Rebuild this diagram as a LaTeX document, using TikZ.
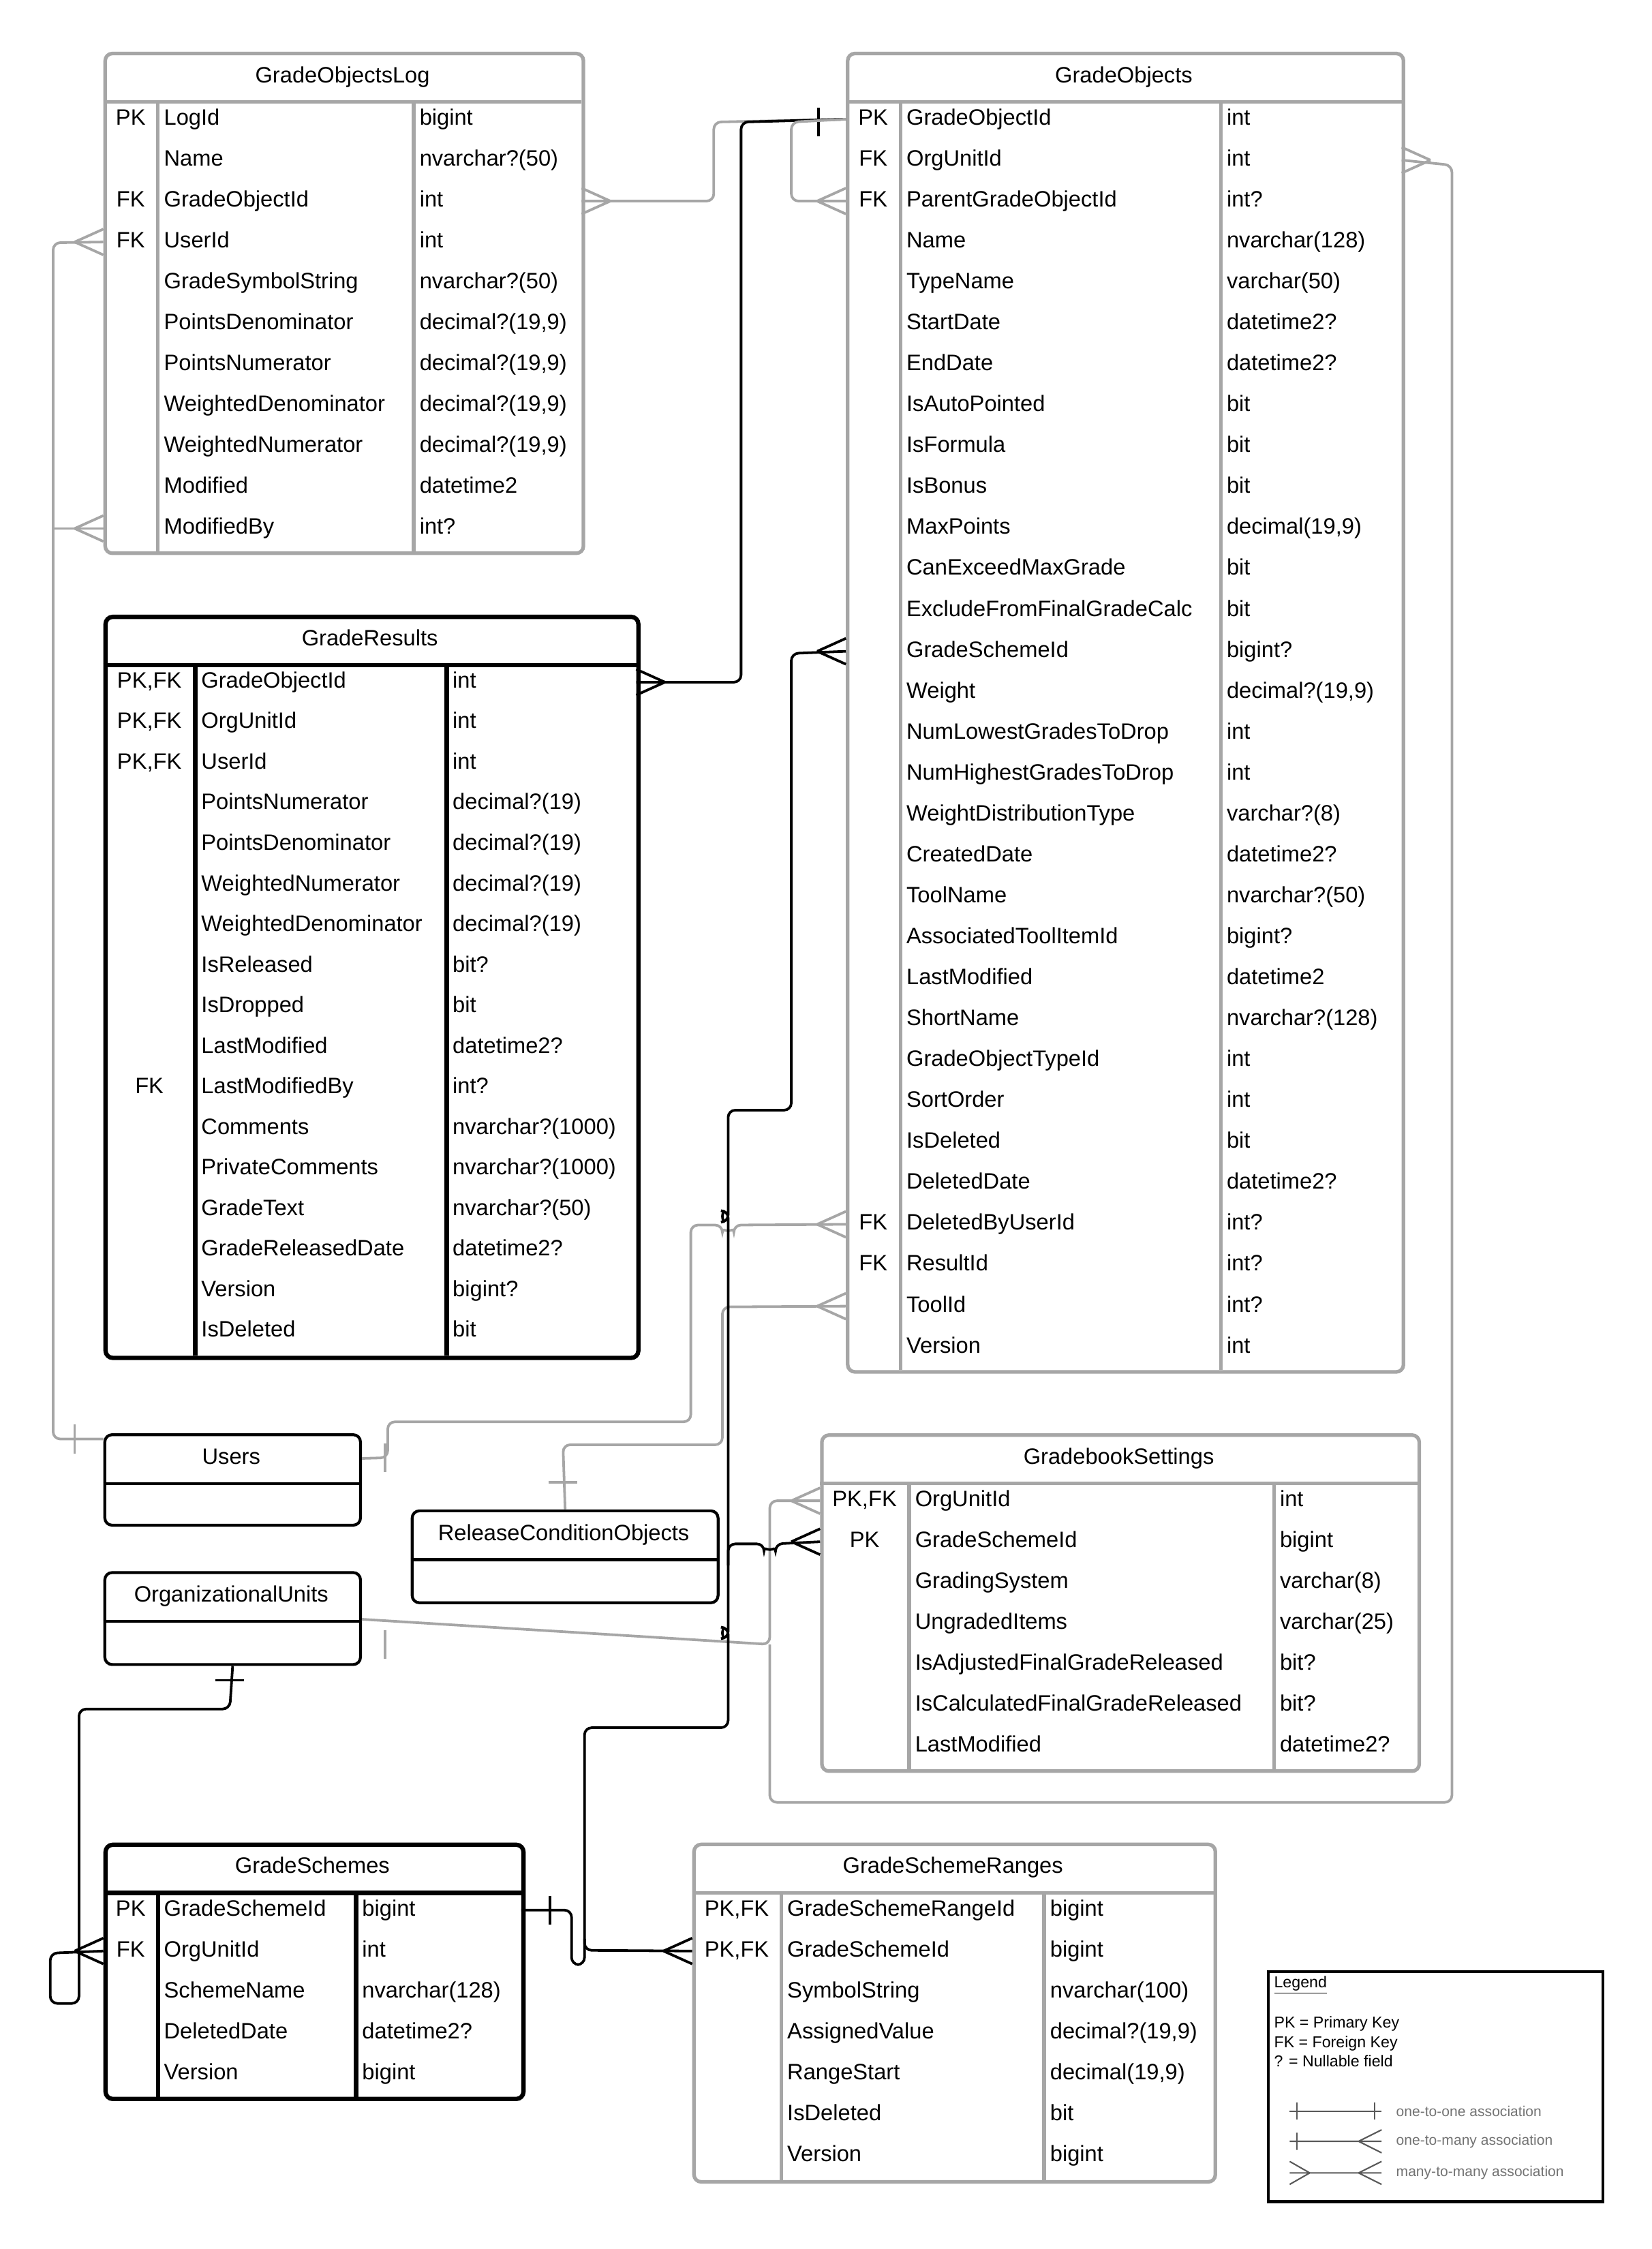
\documentclass[tikz,border=0pt]{standalone}
\usepackage{fontspec}
\setmainfont{Liberation Sans}
\usetikzlibrary{calc}
\definecolor{gcol}{HTML}{A6A6A6}
\tikzset{x=1pt,y=-1pt,
 txt/.style={inner sep=0,font=\fontsize{15.5}{18}\selectfont,text height=11pt,text depth=3pt},
 tbox/.style={inner sep=0,rounded corners=5pt},
 gbox/.style={draw=gcol,line width=2.5pt},
 bbox/.style={draw=black,line width=3pt},
 tbx/.style={draw=black,line width=2pt},
 gl/.style={draw=gcol,line width=1.8pt,rounded corners=5pt},
 bl/.style={draw=black,line width=1.8pt,rounded corners=5pt},
}
\newcommand\mktable[8]{%
 \node[tbox,#7,minimum width={#3-#2},minimum height={#6-#4},anchor=north west] (#1) at (#2,#4) {};
 \draw[#7] (#2,#5) -- (#3,#5);
 \node[txt] (#1-title) at ({(#2+#3)/2},{(#4+#5)/2}) {#8};}
\newcommand\mkrows[8]{%
 \foreach \k/\n/\t [count=\i] in {#8} {
  \pgfmathsetmacro\yy{#6+(\i-1)*#7}
  \node[txt] (#1-k\i) at ({(#2+#4)/2},\yy) {\k};
  \node[txt,anchor=west] (#1-n\i) at (#4+4,\yy) {\n};
  \node[txt,anchor=west] (#1-t\i) at (#5+4,\yy) {\t};
  \coordinate (#1-w\i) at (#2,\yy);
  \coordinate (#1-e\i) at (#3,\yy);
 }}
\newcommand\crowW[2]{\draw[#2,sharp corners] ($(#1)+(-20,0)$) -- ($(#1)+(0,-9)$) ($(#1)+(-20,0)$) -- ($(#1)+(0,9)$);}
\newcommand\crowE[2]{\draw[#2,sharp corners] ($(#1)+(20,0)$) -- ($(#1)+(0,-9)$) ($(#1)+(20,0)$) -- ($(#1)+(0,9)$);}
\begin{document}
\begin{tikzpicture}
\useasboundingbox[fill=white] (0,0) rectangle (1150,1566);
% ---- GradeObjectsLog
\mktable{gol}{72}{405}{36}{71}{384}{gbox}{GradeObjectsLog}
\draw[gbox] (110,71)--(110,384) (288,71)--(288,384);
\mkrows{gol}{72}{405}{110}{288}{83}{28.5}{PK/LogId/bigint,{}/Name/{nvarchar?(50)},FK/GradeObjectId/int,FK/UserId/int,{}/GradeSymbolString/{nvarchar?(50)},{}/PointsDenominator/{decimal?(19,9)},{}/PointsNumerator/{decimal?(19,9)},{}/WeightedDenominator/{decimal?(19,9)},{}/WeightedNumerator/{decimal?(19,9)},{}/Modified/datetime2,{}/ModifiedBy/int?}
% ---- GradeObjects
\mktable{go}{589}{976}{36}{71}{954}{gbox}{GradeObjects}
\draw[gbox] (627,71)--(627,954) (850,71)--(850,954);
\mkrows{go}{589}{976}{627}{850}{83}{28.5}{PK/GradeObjectId/int,FK/OrgUnitId/int,FK/ParentGradeObjectId/int?,{}/Name/nvarchar(128),{}/TypeName/varchar(50),{}/StartDate/datetime2?,{}/EndDate/datetime2?,{}/IsAutoPointed/bit,{}/IsFormula/bit,{}/IsBonus/bit,{}/MaxPoints/{decimal(19,9)},{}/CanExceedMaxGrade/bit,{}/ExcludeFromFinalGradeCalc/bit,{}/GradeSchemeId/bigint?,{}/Weight/{decimal?(19,9)},{}/NumLowestGradesToDrop/int,{}/NumHighestGradesToDrop/int,{}/WeightDistributionType/varchar?(8),{}/CreatedDate/datetime2?,{}/ToolName/nvarchar?(50),{}/AssociatedToolItemId/bigint?,{}/LastModified/datetime2,{}/ShortName/nvarchar?(128),{}/GradeObjectTypeId/int,{}/SortOrder/int,{}/IsDeleted/bit,{}/DeletedDate/datetime2?,FK/DeletedByUserId/int?,FK/ResultId/int?,{}/ToolId/int?,{}/Version/int}
% ---- GradeResults
\mktable{gr}{72}{443}{428}{463}{944}{bbox}{GradeResults}
\draw[bbox] (136,463)--(136,944) (311,463)--(311,944);
\mkrows{gr}{72}{443}{136}{311}{475}{28.25}{{PK,FK}/GradeObjectId/int,{PK,FK}/OrgUnitId/int,{PK,FK}/UserId/int,{}/PointsNumerator/decimal?(19),{}/PointsDenominator/decimal?(19),{}/WeightedNumerator/decimal?(19),{}/WeightedDenominator/decimal?(19),{}/IsReleased/bit?,{}/IsDropped/bit,{}/LastModified/datetime2?,FK/LastModifiedBy/int?,{}/Comments/nvarchar?(1000),{}/PrivateComments/nvarchar?(1000),{}/GradeText/nvarchar?(50),{}/GradeReleasedDate/datetime2?,{}/Version/bigint?,{}/IsDeleted/bit}
% ---- small tables
\mktable{us}{72}{250}{998}{1033}{1061}{tbx}{Users}
\mktable{rco}{286}{499}{1051}{1086}{1115}{tbx}{ReleaseConditionObjects}
\mktable{ou}{72}{250}{1094}{1129}{1158}{tbx}{OrganizationalUnits}
% ---- GradebookSettings
\mktable{gbs}{571}{987}{998}{1033}{1232}{gbox}{GradebookSettings}
\draw[gbox] (633,1033)--(633,1232) (887,1033)--(887,1232);
\mkrows{gbs}{571}{987}{633}{887}{1045}{28.5}{{PK,FK}/OrgUnitId/int,PK/GradeSchemeId/bigint,{}/GradingSystem/varchar(8),{}/UngradedItems/varchar(25),{}/IsAdjustedFinalGradeReleased/bit?,{}/IsCalculatedFinalGradeReleased/bit?,{}/LastModified/datetime2?}
% ---- GradeSchemes
\mktable{gs}{72}{363}{1283}{1318}{1460}{bbox}{GradeSchemes}
\draw[bbox] (110,1318)--(110,1460) (248,1318)--(248,1460);
\mkrows{gs}{72}{363}{110}{248}{1330}{28.5}{PK/GradeSchemeId/bigint,FK/OrgUnitId/int,{}/SchemeName/nvarchar(128),{}/DeletedDate/datetime2?,{}/Version/bigint}
% ---- GradeSchemeRanges
\mktable{gsr}{482}{845}{1283}{1318}{1518}{gbox}{GradeSchemeRanges}
\draw[gbox] (544,1318)--(544,1518) (727,1318)--(727,1518);
\mkrows{gsr}{482}{845}{544}{727}{1330}{28.5}{{PK,FK}/GradeSchemeRangeId/bigint,{PK,FK}/GradeSchemeId/bigint,{}/SymbolString/nvarchar(100),{}/AssignedValue/{decimal?(19,9)},{}/RangeStart/{decimal(19,9)},{}/IsDeleted/bit,{}/Version/bigint}
% ================= connectors
% GOL.GradeObjectId -> GO
\draw[gl] (gol-e3) -- (497,140) -- (497,85) -- (go-w1);
\crowE{gol-e3}{gl}
% GR -> GO
\draw[bl] (gr-e1) -- (516,475) -- (516,85) -- (go-w1);
\crowE{gr-e1}{bl}
\draw[bl] (570,75) -- (570,95);
% GO self
\draw[gl] (go-w1) -- (551,85) -- (551,140) -- (go-w3);
\crowW{go-w3}{gl}
% GOL -> Users
\draw[gl] (gol-w4) -- (37,169) -- (37,1002) -- ($(us.north west)+(0,4)$);
\draw[gl] (gol-w11) -- (37,368);
\crowW{gol-w4}{gl}
\crowW{gol-w11}{gl}
\draw[gl] (52,992) -- (52,1012);
% Users -> GO.DeletedByUserId
\draw[gl] (us-title.east -| us.east) -- (270,1015) -- (270,990) -- (481,990) -- (481,853) -- (503,853) arc[start angle=180,end angle=0,radius=4] -- (go-w28);
\crowW{go-w28}{gl}
\draw[gl] (268,1005) -- (268,1025);
% RCO -> GO.ToolId
\draw[gl] (rco.north) -- (392,1006) -- (503,1006) -- (503,910) -- (go-w30);
\crowW{go-w30}{gl}
\draw[gl] (382,1032) -- (402,1032);
% OU -> GBS, GO
\draw[gl] (ou-title.east -| ou.east) ++(0,16) -- (536,1145) -- (536,1045) -- (gbs-w1);
\draw[gl] (536,1145) -- (536,1255) -- (1011,1255) -- (1011,115) -- (go-e2);
\crowW{gbs-w1}{gl}
\crowE{go-e2}{gl}
\draw[gl] (268,1135) -- (268,1155);
% OU -> GS
\draw[bl] (ou.south) -- (160,1190) -- (55,1190) -- (55,1395) -- (35,1395) -- (35,1360) -- (gs-w2);
\crowW{gs-w2}{bl}
\draw[bl] (150,1170) -- (170,1170);
% GS -> GO, GBS, GSR
\draw[bl] (go-w14) -- (551,455) -- (551,773) -- (507,773) -- (507,851)
  arc[start angle=90,end angle=270,radius=4] -- (507,1141)
  arc[start angle=90,end angle=270,radius=4] -- (507,1203) -- (407,1203) -- (407,1358) -- (gsr-w2);
\draw[bl] (507,1090) -- (507,1075) -- (532,1075) arc[start angle=180,end angle=0,radius=4] -- (gbs-w2);
\draw[bl] (gs-e1) -- (398,1330) -- (398,1368) -- (407,1368) -- (407,1350);
\crowW{go-w14}{bl}
\crowW{gbs-w2}{bl}
\crowW{gsr-w2}{bl}
\draw[bl] (383,1320) -- (383,1340);
% ================= legend
\node[draw=black,line width=2pt,minimum width=233,minimum height=160,anchor=north west,inner sep=0] (leg) at (882,1372) {};
\node[inner sep=0,anchor=north west,font=\fontsize{11}{14}\selectfont] (legt) at (887,1376) {\underline{Legend}};
\node[inner sep=0,anchor=north west,align=left,font=\fontsize{11}{13.5}\selectfont] (legk) at (887,1404) {PK = Primary Key\\FK = Foreign Key\\? = Nullable field};
\tikzset{lgl/.style={draw=black!65,line width=1pt}}
\node[inner sep=0,anchor=west,text=black!55,font=\fontsize{10}{12}\selectfont] (l1) at (972,1470) {one-to-one association};
\node[inner sep=0,anchor=west,text=black!55,font=\fontsize{10}{12}\selectfont] (l2) at (972,1491) {one-to-many association};
\node[inner sep=0,anchor=west,text=black!55,font=\fontsize{10}{12}\selectfont] (l3) at (972,1513) {many-to-many association};
\draw[lgl] (898,1470) -- (962,1470) (903,1464) -- (903,1476) (957,1464) -- (957,1476);
\draw[lgl] (898,1491) -- (962,1491) (903,1485) -- (903,1497) (946,1491) -- (962,1483) (946,1491) -- (962,1499);
\draw[lgl] (898,1513) -- (962,1513) (912,1513) -- (898,1505) (912,1513) -- (898,1521) (946,1513) -- (962,1505) (946,1513) -- (962,1521);
\end{tikzpicture}
\end{document}
